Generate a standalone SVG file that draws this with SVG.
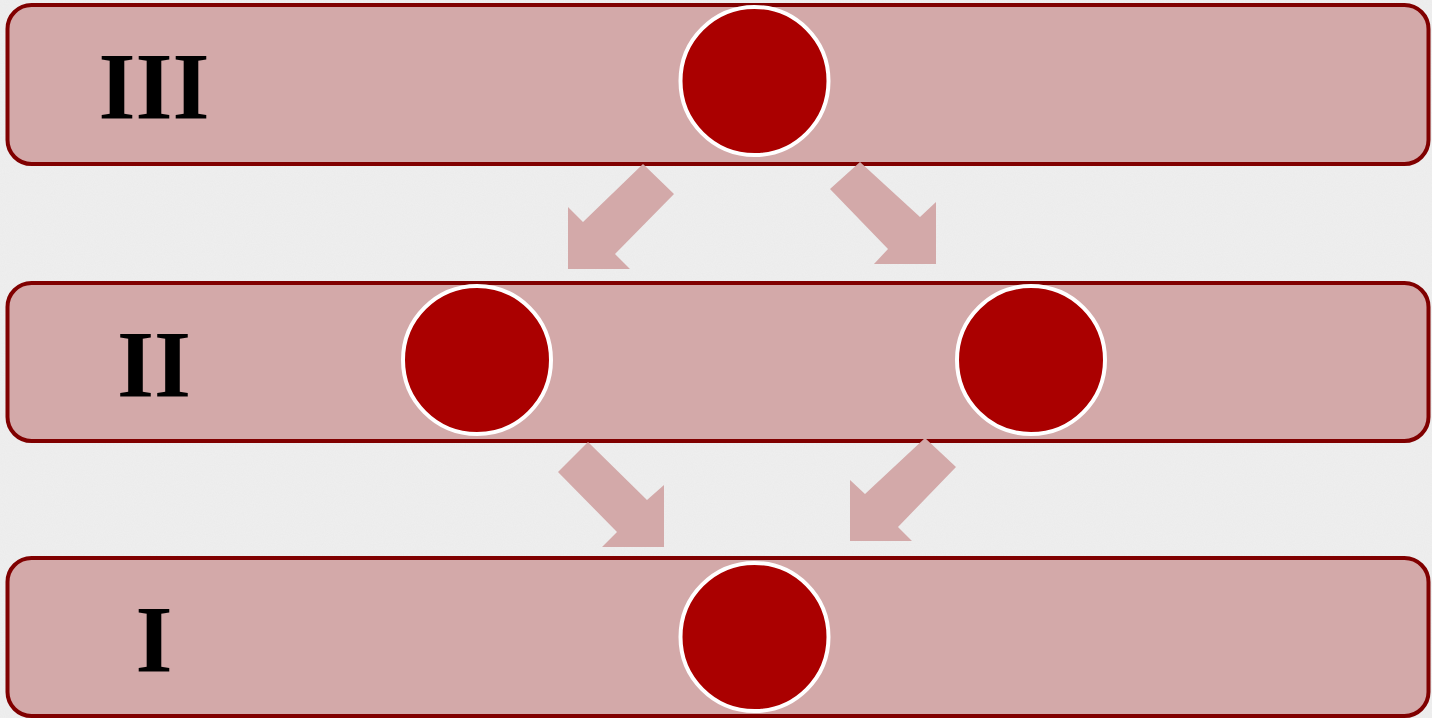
<svg xmlns="http://www.w3.org/2000/svg" width="1432" height="718" viewBox="0 0 1432 718">
<defs>
<filter id="paper" x="0" y="0" width="100%" height="100%">
<feTurbulence type="fractalNoise" baseFrequency="0.9" numOctaves="2" seed="3" result="n"/>
<feColorMatrix in="n" type="matrix" values="0 0 0 0 0.5  0 0 0 0 0.5  0 0 0 0 0.5  0 0 0 0.10 0" result="g"/>
<feComposite in="g" in2="SourceGraphic" operator="atop"/>
</filter>
</defs>
<style>
.bar{fill:#d3a9a9;stroke:#800000;stroke-width:4}
.dot{fill:#aa0000;stroke:#ffffff;stroke-width:4}
.lbl{font-family:"Liberation Serif","Times New Roman",serif;font-weight:bold;font-size:95px;fill:#000;text-anchor:middle}
.arr{fill:#d3a9a9}
</style>
<rect x="0" y="0" width="1432" height="718" fill="#efefef" filter="url(#paper)"/>
<g id="row3">
<rect class="bar" x="7.5" y="5" width="1421" height="159" rx="24"/>
<text class="lbl" x="154" y="119">III</text>
</g>
<g id="row2">
<rect class="bar" x="7.5" y="283" width="1421" height="158" rx="24"/>
<text class="lbl" x="154" y="397">II</text>
</g>
<g id="row1">
<rect class="bar" x="7.5" y="558" width="1421" height="158" rx="24"/>
<text class="lbl" x="154" y="672">I</text>
</g>
<g id="node-top"><circle class="dot" cx="754.5" cy="81" r="74"/></g>
<g id="node-left"><circle class="dot" cx="477" cy="360" r="74"/></g>
<g id="node-right"><circle class="dot" cx="1031" cy="360" r="74"/></g>
<g id="node-bottom"><circle class="dot" cx="754.5" cy="637" r="74"/></g>
<g id="connectors">
<polygon class="arr" points="643,164 674,194 615,254 630,269 568,269 568,207 583,222"/>
<polygon class="arr" points="860,162 920,217 936,202 936,264 874,264 888,249 830,189"/>
<polygon class="arr" points="588,442 647,500 664,485 664,547 602,547 617,532 558,472"/>
<polygon class="arr" points="925,438 956,467 898,527 912,541 850,541 850,480 865,494"/>
</g>
</svg>
